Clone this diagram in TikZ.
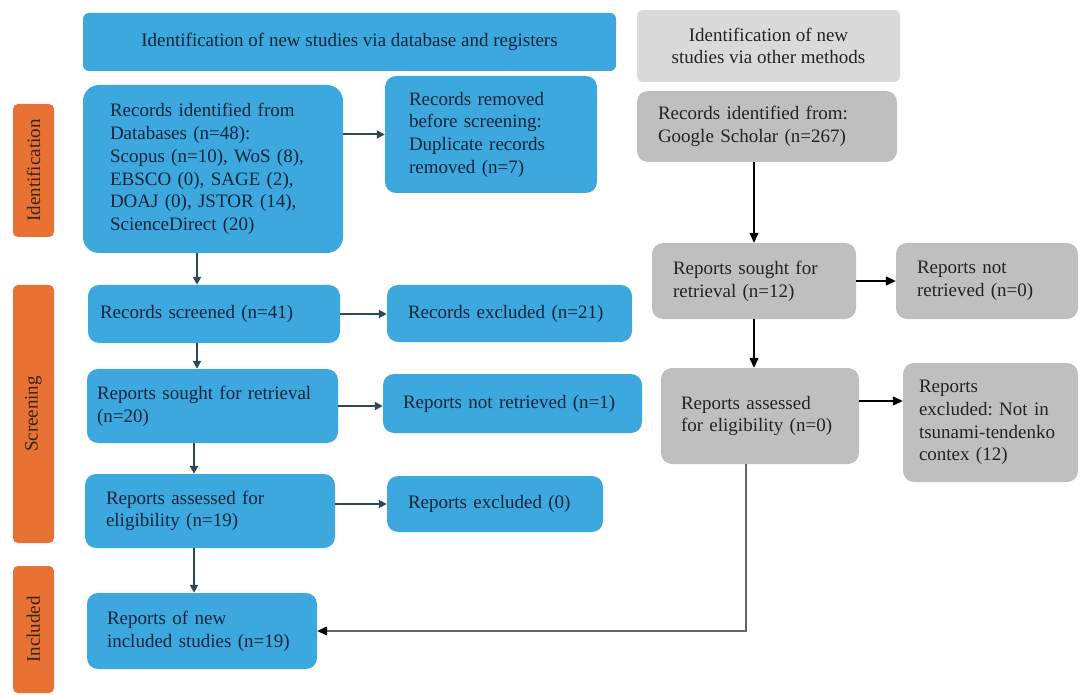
\documentclass[tikz,border=0pt]{standalone}
\usepackage{fontspec}
\setmainfont{Liberation Serif}
\usetikzlibrary{arrows.meta}
\frenchspacing

\definecolor{pblue}{RGB}{60,168,222}
\definecolor{porange}{RGB}{232,114,52}
\definecolor{plight}{RGB}{218,218,218}
\definecolor{pgray}{RGB}{191,191,191}
\definecolor{ptext}{RGB}{20,36,60}
\definecolor{gtext}{RGB}{35,35,35}
\definecolor{ltext}{RGB}{55,35,25}
\definecolor{parrow}{RGB}{47,72,88}

\tikzset{
  base/.style={inner sep=0pt, align=left, font=\fontsize{19}{22.7}\selectfont},
  bluebox/.style={base, fill=pblue, text=ptext, rounded corners=11pt},
  graybox/.style={base, fill=pgray, text=gtext, rounded corners=11pt},
  dims/.style n args={3}{minimum width=#1pt, minimum height=#2pt, text width=#3pt},
  sidelab/.style={base, align=center, fill=porange, text=ltext, rounded corners=5pt, rotate=90, minimum height=41pt},
  barrow/.style={-{Triangle[length=8pt,width=8pt]}, line width=2pt, draw=parrow},
  garrow/.style={-{Triangle[length=10pt,width=9pt]}, line width=1.3pt, draw=black},
  gline/.style={-{Triangle[length=10pt,width=9pt,color=black]}, line width=1.3pt, draw=gray!80!black}
}

\begin{document}
\begin{tikzpicture}[x=1pt,y=-1pt]
  \useasboundingbox (0,0) rectangle (1085,695);
  \fill[white] (0,0) rectangle (1085,695);

  % headers
  \node[base, align=center, fill=pblue, text=ptext, rounded corners=6pt, minimum width=533pt, minimum height=58pt] (hdrdb) at (349.5,42) {Identification of new studies via database and registers};
  \node[base, align=center, fill=plight, text=gtext, rounded corners=6pt, minimum width=263pt, minimum height=72pt] (hdrother) at (768.5,46) {Identification of new\\studies via other methods};

  % phase labels
  \node[sidelab, minimum width=133pt] (labid) at (33.5,170.5) {Identification};
  \node[sidelab, minimum width=258pt] (labscr) at (33.5,414) {Screening};
  \node[sidelab, minimum width=127pt] (labinc) at (33.5,629.5) {Included};

  % databases and registers
  \node[bluebox, dims={260}{168}{206}, rounded corners=16pt] (recid) at (213,169) {Records identified from\\Databases (n=48):\\Scopus (n=10), WoS (8),\\EBSCO (0), SAGE (2),\\DOAJ (0), JSTOR (14),\\ScienceDirect (20)};
  \node[bluebox, dims={212}{117}{164}] (recrem) at (491,134.5) {Records removed\\before screening:\\Duplicate records\\removed (n=7)};
  \node[bluebox, dims={252}{58}{228}] (recscr) at (214,314) {Records screened (n=41)};
  \node[bluebox, dims={245}{57}{203}] (recexc) at (509.5,313.5) {Records excluded (n=21)};
  \node[bluebox, dims={251}{74}{231}] (rsought) at (212.5,406) {Reports sought for retrieval\\(n=20)};
  \node[bluebox, dims={259}{59}{219}] (rnotret) at (512.5,403.5) {Reports not retrieved (n=1)};
  \node[bluebox, dims={250}{74}{208}] (rassess) at (210,511) {Reports assessed for\\eligibility (n=19)};
  \node[bluebox, dims={216}{56}{174}] (rexc) at (495,504) {Reports excluded (0)};
  \node[bluebox, dims={230}{76}{190}] (incl) at (202,631) {Reports of new\\included studies (n=19)};

  % other methods
  \node[graybox, dims={260}{71}{218}] (gs) at (767,126.5) {Records identified from:\\Google Scholar (n=267)};
  \node[graybox, dims={204}{76}{162}] (gsought) at (754,281) {Reports sought for\\retrieval (n=12)};
  \node[graybox, dims={182}{76}{140}] (gnotret) at (987,281) {Reports not\\retrieved (n=0)};
  \node[graybox, dims={198}{96}{158}] (gassess) at (760,416) {Reports assessed\\for eligibility (n=0)};
  \node[graybox, dims={175}{119}{143}] (gexc) at (990.5,422.5) {Reports\\excluded: Not in\\tsunami-tendenko\\contex (12)};

  % arrows, left column
  \coordinate (lx) at (197,0);
  \coordinate (lx2) at (194,0);
  \draw[barrow] (recid.east |- recrem.west) -- (recrem.west);
  \draw[barrow] (recid.south -| lx) -- (recscr.north -| lx);
  \draw[barrow] (recscr.south -| lx) -- (rsought.north -| lx);
  \draw[barrow] (rsought.south -| lx2) -- (rassess.north -| lx2);
  \draw[barrow] (rassess.south -| lx2) -- (incl.north -| lx2);
  \draw[barrow] (recscr.east) -- (recscr.east -| recexc.west);
  \draw[barrow] (rsought.east) -- (rsought.east -| rnotret.west);
  \draw[barrow] (rexc.west -| rassess.east) -- (rexc.west);

  % arrows, right column
  \draw[garrow] (gsought.north |- gs.south) -- (gsought.north);
  \draw[garrow] (gsought.east) -- (gnotret.west);
  \draw[garrow] (gsought.south) -- (gsought.south |- gassess.north);
  \draw[garrow] ([yshift=15pt]gassess.east) -- ([yshift=15pt]gassess.east -| gexc.west);
  \draw[gline] ([xshift=-14pt]gassess.south) |- (incl.east);
\end{tikzpicture}
\end{document}
